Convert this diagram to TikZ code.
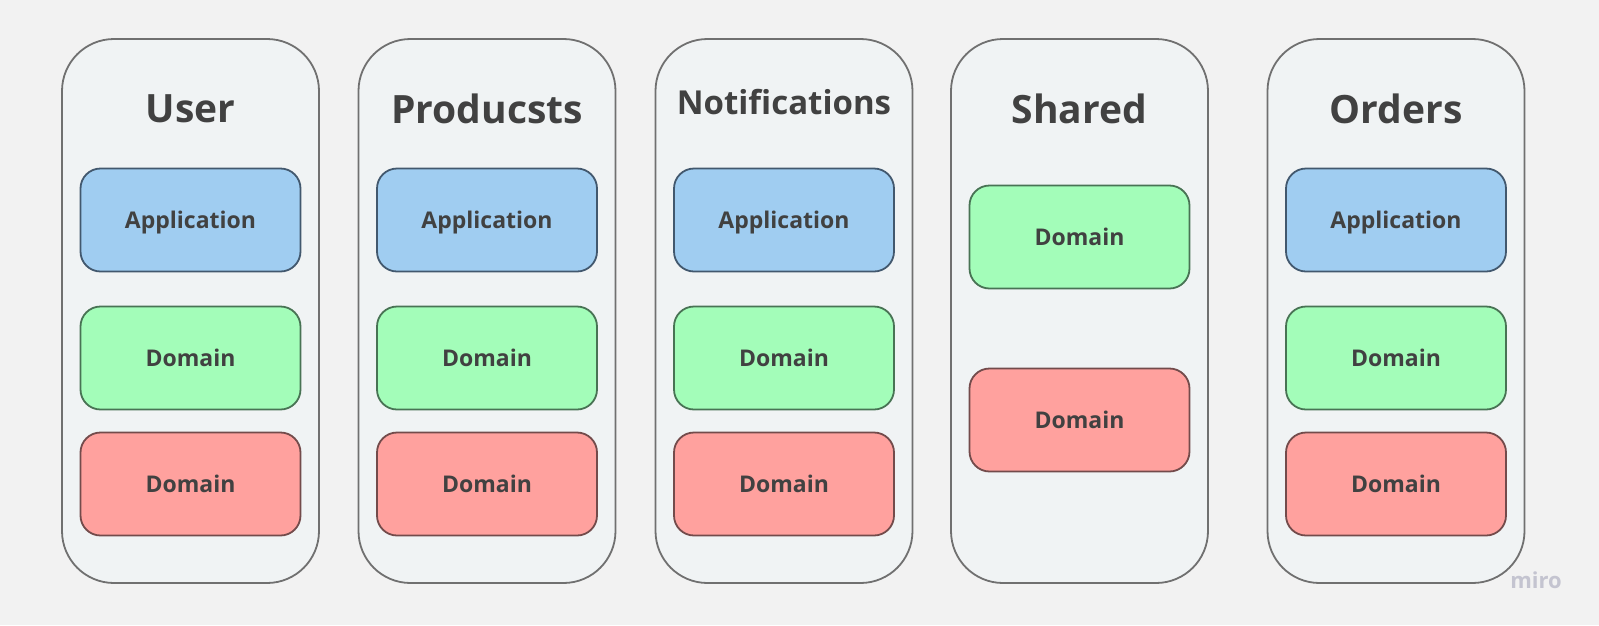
\documentclass[tikz,border=0pt]{standalone}
\usepackage{fontspec}
\setmainfont{Open Sans}
\definecolor{bgc}{RGB}{242,242,242}
\definecolor{contfill}{RGB}{240,243,244}
\definecolor{contline}{RGB}{112,112,112}
\definecolor{txt}{RGB}{65,65,65}
\definecolor{bluef}{RGB}{160,205,241}
\definecolor{bluel}{RGB}{66,88,110}
\definecolor{greenf}{RGB}{163,253,185}
\definecolor{greenl}{RGB}{72,115,84}
\definecolor{redf}{RGB}{255,161,158}
\definecolor{redl}{RGB}{115,75,75}
\definecolor{mirocol}{RGB}{196,196,208}
\begin{document}
\begin{tikzpicture}[x=1pt,y=-1pt,
  container/.style={draw=contline,fill=contfill,line width=1.8pt,rounded corners=52pt,minimum width=257pt,minimum height=544pt,inner sep=0pt},
  title/.style={text=txt,font=\fontsize{39}{40}\selectfont\bfseries},
  layer/.style={rounded corners=20pt,minimum width=220pt,minimum height=103pt,line width=1.8pt,text=txt,font=\fontsize{23}{24}\selectfont\bfseries,inner sep=0pt,text depth=0pt},
  app/.style={layer,draw=bluel,fill=bluef},
  dom/.style={layer,draw=greenl,fill=greenf},
  infra/.style={layer,draw=redl,fill=redf}]
\useasboundingbox (0,0) rectangle (1599,625);
\fill[bgc] (0,0) rectangle (1599,625);
% containers
\node[container] (c1) at (190.5,311) {};
\node[container] (c2) at (487,311) {};
\node[container] (c3) at (784,311) {};
\node[container] (c4) at (1079.5,311) {};
\node[container] (c5) at (1396,311) {};
% titles
\node[title] (t1) at (190.5,109) {User};
\node[title] (t2) at (487,109) {Producsts};
\node[title,font=\fontsize{33}{34}\selectfont\bfseries] (t3) at (784,102) {Notifications};
\node[title] (t4) at (1079.5,109) {Shared};
\node[title] (t5) at (1396,109) {Orders};
% layers
\node[app] (a1) at (190.5,220) {Application};
\node[dom] (d1) at (190.5,358) {Domain};
\node[infra] (r1) at (190.5,484) {Domain};
\node[app] (a2) at (487,220) {Application};
\node[dom] (d2) at (487,358) {Domain};
\node[infra] (r2) at (487,484) {Domain};
\node[app] (a3) at (784,220) {Application};
\node[dom] (d3) at (784,358) {Domain};
\node[infra] (r3) at (784,484) {Domain};
\node[dom] (d4) at (1079.5,237) {Domain};
\node[infra] (r4) at (1079.5,420) {Domain};
\node[app] (a5) at (1396,220) {Application};
\node[dom] (d5) at (1396,358) {Domain};
\node[infra] (r5) at (1396,484) {Domain};
% logo
\node[text=mirocol,font=\fontsize{22}{24}\selectfont\bfseries] (logo) at (1536,580) {miro};
\end{tikzpicture}
\end{document}
